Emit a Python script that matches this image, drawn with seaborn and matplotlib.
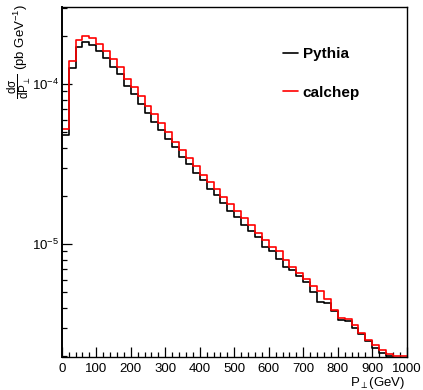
import numpy as np
import pandas as pd
import matplotlib
matplotlib.use("Agg")
import matplotlib.pyplot as plt
import seaborn as sns
from matplotlib.lines import Line2D
from matplotlib.ticker import LogLocator, NullFormatter, MultipleLocator

# ---- data (dsigma/dPt in pb/GeV, 20 GeV bins from 0 to 1000 GeV) ----
bin_width = 20
bin_range = (0, 1000)
pythia = [4.80e-5, 1.253e-4, 1.695e-4, 1.822e-4, 1.753e-4, 1.607e-4, 1.448e-4, 1.271e-4,
          1.151e-4, 9.72e-5, 8.63e-5, 7.53e-5, 6.64e-5, 5.81e-5, 5.16e-5, 4.53e-5,
          4.02e-5, 3.51e-5, 3.16e-5, 2.77e-5, 2.51e-5, 2.21e-5, 2.02e-5, 1.80e-5,
          1.62e-5, 1.47e-5, 1.315e-5, 1.206e-5, 1.10e-5, 9.62e-6, 9.08e-6, 8.02e-6,
          7.21e-6, 6.88e-6, 6.35e-6, 5.79e-6, 5.04e-6, 4.34e-6, 4.30e-6, 3.83e-6,
          3.35e-6, 3.33e-6, 3.01e-6, 2.73e-6, 2.49e-6, 2.25e-6, 2.10e-6, 2.00e-6,
          1.90e-6, 1.82e-6]
calchep = [5.21e-5, 1.393e-4, 1.884e-4, 1.995e-4, 1.93e-4, 1.778e-4, 1.607e-4, 1.426e-4,
           1.271e-4, 1.075e-4, 9.62e-5, 8.41e-5, 7.34e-5, 6.47e-5, 5.68e-5, 4.99e-5,
           4.36e-5, 3.87e-5, 3.46e-5, 3.07e-5, 2.70e-5, 2.45e-5, 2.20e-5, 1.97e-5,
           1.77e-5, 1.60e-5, 1.46e-5, 1.315e-5, 1.172e-5, 1.067e-5, 9.62e-6, 9.08e-6,
           8.00e-6, 7.18e-6, 6.59e-6, 6.02e-6, 5.46e-6, 5.12e-6, 4.51e-6, 3.87e-6,
           3.44e-6, 3.40e-6, 3.12e-6, 2.79e-6, 2.51e-6, 2.33e-6, 2.18e-6, 2.05e-6,
           2.00e-6, 1.99e-6]
series_names = ["Pythia", "calchep"]
series_colors = ["black", "red"]
xlabel = r"P$_{\perp}$(GeV)"
ylabel_frac = r"$\dfrac{d\sigma}{dP_{\perp}}$"
ylabel_unit = r"(pb GeV$^{-1}$)"

centers = np.arange(bin_range[0], bin_range[1], bin_width) + bin_width / 2
df = pd.concat([
    pd.DataFrame({"pt": centers, "w": pythia, "gen": "Pythia"}),
    pd.DataFrame({"pt": centers, "w": calchep, "gen": "calchep"}),
], ignore_index=True)

sns.set_style("ticks")
plt.rcParams["font.family"] = ["Liberation Sans", "DejaVu Sans"]
plt.rcParams["mathtext.fontset"] = "custom"
plt.rcParams["mathtext.rm"] = "Liberation Sans"
plt.rcParams["mathtext.it"] = "Liberation Sans"
plt.rcParams["mathtext.bf"] = "Liberation Sans:bold"
for key in ["text.color", "axes.labelcolor", "xtick.color", "ytick.color", "axes.edgecolor"]:
    plt.rcParams[key] = "black"

fig = plt.figure(figsize=(4.23, 3.90), dpi=100)
ax = fig.add_axes([61.7 / 423, 1 - 357 / 390, (406.7 - 61.7) / 423, (357 - 7) / 390])
ax.set_yscale("log")

for name, col in zip(series_names, series_colors):
    sns.histplot(data=df[df["gen"] == name], x="pt", weights="w",
                 binwidth=bin_width, binrange=bin_range,
                 element="step", fill=False, color=col, linewidth=1.2, ax=ax)

ax.set_xlim(0, 1000)
ax.set_ylim(1.97e-6, 3.03e-4)
ax.set_xlabel("")
ax.set_ylabel("")

ax.xaxis.set_major_locator(MultipleLocator(100))
ax.xaxis.set_minor_locator(MultipleLocator(20))
ax.yaxis.set_major_locator(LogLocator(base=10, numticks=10))
ax.yaxis.set_minor_locator(LogLocator(base=10, subs=np.arange(2, 10), numticks=10))
ax.yaxis.set_minor_formatter(NullFormatter())
ax.tick_params(which="major", direction="in", length=7, width=0.9, labelsize=9.5,
               top=False, right=False, color="black", labelcolor="black")
ax.tick_params(which="minor", direction="in", length=3.6, width=0.9, top=False, right=False,
               color="black")
ax.tick_params(axis="x", pad=4)
ax.tick_params(axis="y", pad=2)
for s in ax.spines.values():
    s.set_linewidth(1.0)
    s.set_color("black")
ax.spines["left"].set_linewidth(1.4)

fig.text(405 / 423, 1 - 383 / 390, xlabel, ha="right", va="center", fontsize=9.5,
         color="black")
fig.text(21 / 423, 1 - 4 / 390, ylabel_unit, ha="center", va="top", rotation=90,
         fontsize=9.5, color="black")
fig.text(19 / 423, 1 - 86 / 390, ylabel_frac, ha="center", va="center", rotation=90,
         fontsize=8.5, color="black")

handles = [Line2D([], [], color=c, lw=1.2) for c in series_colors]
leg = fig.legend(handles, series_names, loc="center left",
                 bbox_to_anchor=(283 / 423, 1 - 73.5 / 390), bbox_transform=fig.transFigure,
                 frameon=False, borderpad=0, borderaxespad=0, handlelength=1.0,
                 handletextpad=0.3, labelspacing=1.6, labelcolor="black",
                 prop={"weight": "bold", "size": 11})

fig.savefig("out.png", dpi=100)
